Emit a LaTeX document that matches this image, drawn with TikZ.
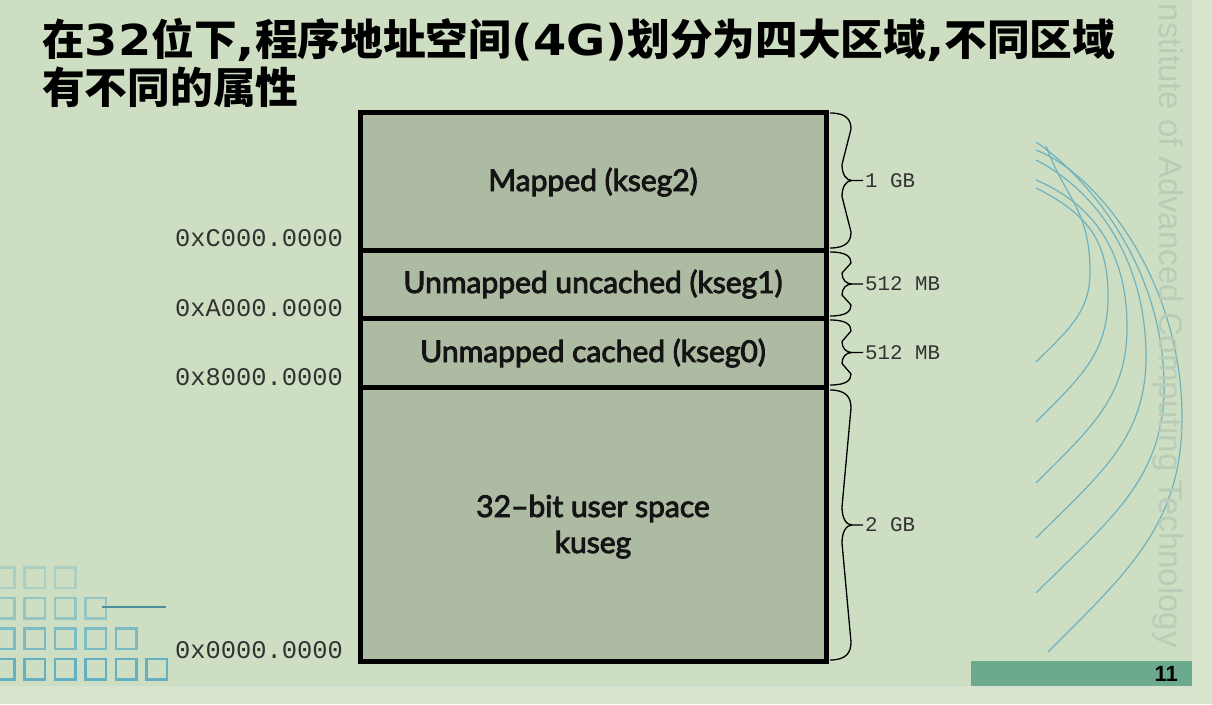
\documentclass[tikz,border=0pt]{standalone}
\usepackage{fontspec}
\setmainfont{Lato}
\newfontfamily\segfont{Lato}[FakeBold=3]
\newfontfamily\cjkfont{Noto Sans CJK SC}
\newfontfamily\titlefont{DejaVu Sans}[FakeStretch=1.12]
\newfontfamily\monofont{Liberation Mono}
\newfontfamily\logofont{Liberation Sans}
\usetikzlibrary{calc}

\definecolor{slidebg}{RGB}{206,222,195}
\definecolor{stripbg}{RGB}{214,229,204}
\definecolor{regionfill}{RGB}{174,187,163}
\definecolor{addrgray}{RGB}{50,50,50}
\definecolor{logogray}{RGB}{186,204,184}
\definecolor{swoosh}{RGB}{110,178,192}
\definecolor{pagebar}{RGB}{108,170,142}
\definecolor{squareteal}{RGB}{95,175,195}

\newcommand{\zh}[1]{{\cjkfont\bfseries #1}}
% curly brace on the right of the map: top y, bottom y, curl size
\newcommand{\membrace}[3]{%
    \pgfmathsetmacro{\bt}{#1}\pgfmathsetmacro{\bb}{#2}\pgfmathsetmacro{\bc}{#3}%
    \pgfmathsetmacro{\bm}{(#1+#2)/2}%
    \draw[line width=1.3pt]
        (830,\bt) .. controls (846,\bt) and (851,{\bt+0.4*\bc}) .. (851,{\bt+\bc})
        -- (842,{\bm-\bc}) .. controls (842,{\bm-0.4*\bc}) and (846,\bm) .. (852,\bm) -- (863,\bm)
        (852,\bm) .. controls (846,\bm) and (842,{\bm+0.4*\bc}) .. (842,{\bm+\bc})
        -- (851,{\bb-\bc}) .. controls (851,{\bb-0.4*\bc}) and (846,\bb) .. (830,\bb);
}

\begin{document}
\begin{tikzpicture}[x=1pt, y=-1pt,
    region/.style={draw=black, line width=5pt, fill=regionfill},
    seglabel/.style={font=\segfont\fontsize{30}{36}\selectfont, text=black!92, anchor=base, inner sep=0},
    addr/.style={font=\monofont\fontsize{25.4}{30}\selectfont, text=addrgray, anchor=base east, inner sep=0},
    sizelabel/.style={font=\monofont\fontsize{20.8}{25}\selectfont, text=addrgray, anchor=base west, inner sep=0}]

    \useasboundingbox (0,0) rectangle (1212,704);
    \clip (0,0) rectangle (1212,704);
    \fill[slidebg] (0,0) rectangle (1212,704);
    \fill[stripbg] (0,686) rectangle (1212,704);
    \fill[stripbg] (1192,0) rectangle (1212,704);
    \draw[logogray!60, line width=0.8pt] (0,686) -- (1192,686) -- (1192,0);

    % swoosh lines on the right
    \foreach \sx/\sy/\ax/\ay/\mx/\my/\ex/\ey in {
        1046/146/1066/200/1090/272/1036/362,
        1036/188/1090/215/1108/297/1036/422,
        1036/180/1095/205/1127/327/1036/483,
        1036/160/1095/190/1146/357/1036/538,
        1036/142/1085/175/1164/387/1036/593,
        1036/150/1100/175/1182/417/1048/652}
    \draw[swoosh, line width=1.2pt] (\sx,\sy) .. controls (\ax,\ay) and (\mx,{\my-0.5*(\my-\sy)}) .. (\mx,\my)
        .. controls (\mx,{\my+0.45*(\ey-\my)}) and ({\ex+0.35*(\ey-\my)},{\ey-0.35*(\ey-\my)}) .. (\ex,\ey);

    \node[rotate=-90, anchor=base east, inner sep=0, text=logogray,
        font=\logofont\fontsize{33}{36}\selectfont] (logo) at (1159,648)
        {Institute of Advanced Computing Technology};

    % squares bottom left
    \foreach \r in {0,...,3} {
        \pgfmathtruncatemacro{\last}{2+\r}
        \foreach \c in {0,...,\last}
        \draw[squareteal, opacity=0.3+0.22*\r, line width=2.4pt]
            ({-6+30.5*\c},{567.5+30.5*\r}) rectangle ++(20.5,20.5);
    }
    \draw[squareteal!80!black, line width=2pt] (102,607) -- (166,607);

    % title
    \node[anchor=base west, inner sep=0, font=\titlefont\bfseries\fontsize{42.7}{48}\selectfont] (title1) at (42,55)
        {\zh{在}32\zh{位下},\zh{程序地址空间}(4G)\zh{划分为四大区域},\zh{不同区域}};
    \node[anchor=base west, inner sep=0, font=\titlefont\bfseries\fontsize{42.7}{48}\selectfont] (title2) at (42,103)
        {\zh{有不同的属性}};

    % memory map
    \coordinate (top) at (360,112.5);
    \coordinate (C) at (826,250);
    \coordinate (A) at (360,250);
    \coordinate (Ar) at (826,318.5);
    \coordinate (E) at (360,318.5);
    \coordinate (Er) at (826,387);
    \coordinate (Z) at (360,387);
    \coordinate (bot) at (826,661.5);

    \draw[region] (top) rectangle (C);
    \draw[region] (A) rectangle (Ar);
    \draw[region] (E) rectangle (Er);
    \draw[region] (Z) rectangle (bot);

    \node[seglabel] (kseg2) at (593,191) {Mapped (kseg2)};
    \node[seglabel] (kseg1) at (593,293) {Unmapped uncached (kseg1)};
    \node[seglabel] (kseg0) at (593,362) {Unmapped cached (kseg0)};
    \node[seglabel] (user) at (593,517) {32–bit user space};
    \node[seglabel] (kuseg) at (593,553) {kuseg};

    \node[addr] (addrC) at (343,246) {0xC000.0000};
    \node[addr] (addrA) at (343,316) {0xA000.0000};
    \node[addr] (addr8) at (343,385) {0x8000.0000};
    \node[addr] (addr0) at (343,658) {0x0000.0000};

    % size braces
    \membrace{113}{248}{16}
    \membrace{252}{316}{11}
    \membrace{320}{385}{11}
    \membrace{390}{660}{18}

    \node[sizelabel] (gb1) at (865,187) {1 GB};
    \node[sizelabel] (mb1) at (865,290.5) {512 MB};
    \node[sizelabel] (mb0) at (865,359) {512 MB};
    \node[sizelabel] (gb2) at (865,531.5) {2 GB};

    % page number
    \fill[pagebar] (971,661) rectangle (1192,686);
    \node[anchor=base east, inner sep=0, font=\logofont\bfseries\fontsize{22}{24}\selectfont] (pagenum) at (1178,681) {11};
\end{tikzpicture}
\end{document}
